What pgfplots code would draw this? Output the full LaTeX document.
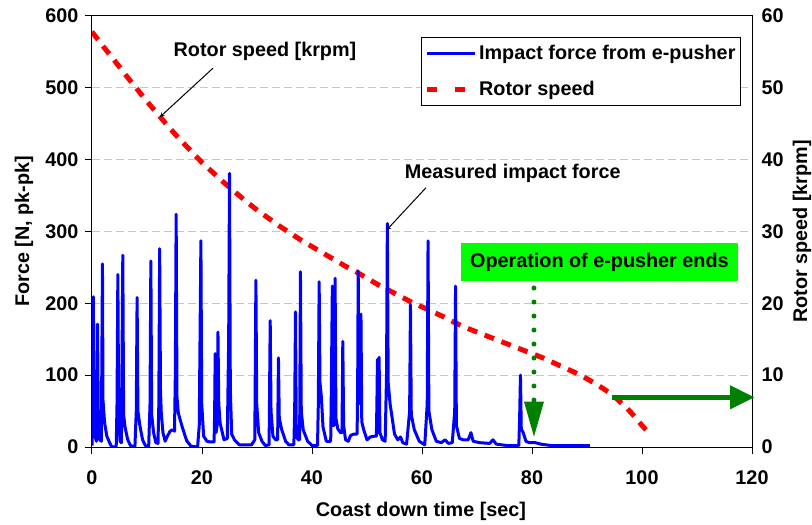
\documentclass[border=0pt]{standalone}
\usepackage{pgfplots}
\pgfplotsset{compat=1.18}
\usepackage{fontspec}
\setmainfont{Liberation Sans}
\definecolor{dgreen}{RGB}{0,128,0}
\definecolor{bgreen}{RGB}{0,255,0}
\newcommand\ff{\fontsize{19.8bp}{23bp}\selectfont\bfseries}
\pgfplotsset{
  dashleg/.style={legend image code/.code={\draw[##1, dash pattern=on 10bp off 18bp] (0bp,0bp) -- (48bp,0bp);}},
  lineleg/.style={legend image code/.code={\draw[##1] (0bp,0bp) -- (48bp,0bp);}},
}
\begin{document}
\begin{tikzpicture}
\pgfplotsset{
  base/.style={scale only axis, width=660bp, height=431bp,
    at={(0,0)}, anchor=south west, xmin=0, xmax=120,
    ticklabel style={font=\ff}, /pgf/number format/assume math mode=true},
}
% Axis A: frame, left axis, grid, x axis
\begin{axis}[base, ymin=0, ymax=600,
  xtick={0,20,...,120}, ytick={0,100,...,600},
  xtick pos=bottom, ytick pos=left, tick align=outside,
  major tick length=7bp,
  axis line style={black, line width=1bp}, tick style={black, line width=1bp},
  ymajorgrids, major grid style={black!22, line width=1bp, dash pattern=on 8bp off 4bp},
  xticklabel style={yshift=-13bp}, yticklabel style={xshift=-3bp},
  xlabel={Coast down time [sec]}, xlabel style={font=\ff, at={(axis description cs:0.4985,-0.1485)}, anchor=center},
  ylabel={Force [N, pk-pk]}, ylabel style={font=\ff, at={(axis description cs:-0.103,0.5)}, anchor=center, rotate=0},
]
\addplot[draw=none] coordinates {(0,0) (120,600)};
\end{axis}
% Axis B: right axis with rotor speed
\begin{axis}[base, ymin=0, ymax=60, hide x axis,
  ytick={0,10,...,60}, ytick pos=right, yticklabel pos=right,
  major tick length=0bp, y axis line style={draw=none},
  yticklabel style={xshift=6bp},
  ylabel={Rotor speed [krpm]}, ylabel style={font=\ff, at={(axis description cs:1.0758,0.5)}, anchor=center, rotate=0},
]
\addplot[red, line width=5bp, dash pattern=on 10bp off 8bp] coordinates {
(0,57.8) (2,55.8) (4,53.9) (6,51.9) (8,50.0) (10,48.1) (12,46.3) (14,44.5) (16,42.8)
(18,41.2) (20,39.6) (22,38.2) (24,36.8) (26,35.5) (28,34.2) (30,33.0) (32,31.9)
(34,30.8) (36,29.8) (38,28.8) (40,27.9) (42,27.0) (44,26.1) (46,25.2) (48,24.4)
(50,23.5) (52,22.6) (54,21.8) (56,21.0) (58,20.2) (60,19.5) (62,18.8) (64,18.1)
(66,17.3) (68,16.6) (70,16.0) (72,15.4) (74,14.8) (76,14.2) (78,13.6) (80,13.0)
(82,12.4) (84,11.7) (86,11.0) (88,10.3) (90,9.5) (92,8.6) (94,7.6) (95,7.0)
(96,6.3) (97,5.6) (98,4.8) (99,3.9) (100,3.0) (101.3,1.9)
};
\end{axis}
% Axis C: force series, legend, annotations
\begin{axis}[base, ymin=0, ymax=600, hide axis, clip mode=individual,
  lineleg,
  legend style={at={(0.9833,0.9513)}, anchor=north east, draw=black, line width=1bp,
    font=\ff, inner xsep=3bp, inner ysep=6bp, row sep=16bp,
    nodes={inner sep=2bp}},
  legend cell align=left,
]
\addplot[blue, line width=3bp, line join=round] coordinates {
(0,2) (0.1,100) (0.25,209) (0.35,60) (0.55,15) (0.8,8) (1.0,171) (1.15,40) (1.4,10)
(1.7,8) (1.9,255) (2.0,65) (2.3,33) (2.7,15) (3.2,6) (3.6,0) (4.4,0) (4.55,60)
(4.7,240) (4.85,40) (5.1,8) (5.35,6) (5.6,267) (5.75,45) (6.0,28) (6.5,10) (7.0,2)
(7.8,0) (8.05,50) (8.2,208) (8.35,50) (8.7,30) (9.2,10) (9.7,2) (10.3,0) (10.55,60)
(10.7,259) (10.85,45) (11.2,20) (11.6,6) (12.0,5) (12.15,60) (12.3,276) (12.45,80)
(12.6,47) (12.9,20) (13.3,8) (13.7,15) (14.2,22) (14.6,24) (15.0,22) (15.15,100)
(15.3,324) (15.45,70) (15.7,47) (16.4,28) (17.2,9) (18.0,1) (19.2,0) (19.5,30)
(19.8,287) (19.95,60) (20.3,15) (20.9,8) (21.5,7) (22.2,7) (22.3,50) (22.4,130)
(22.55,20) (22.75,30) (22.9,160) (23.05,60) (23.3,33) (24.0,10) (24.6,12) (24.85,150)
(25.0,381) (25.15,80) (25.4,18) (25.9,10) (26.8,3) (29.0,3) (29.6,10) (29.8,232)
(29.95,60) (30.3,20) (30.9,8) (31.5,2) (32.2,3) (32.4,176) (32.55,50) (32.9,15)
(33.4,10) (33.75,10) (33.9,124) (34.05,40) (34.5,24) (35.2,8) (35.8,3) (36.7,3)
(36.85,50) (37.0,188) (37.15,15) (37.5,10) (37.75,10) (37.9,244) (38.05,50) (38.4,24)
(39.2,8) (40.0,2) (41.0,2) (41.15,60) (41.3,230) (41.45,90) (41.7,70) (42.0,28)
(42.6,8) (43.4,8) (43.5,70) (43.7,224) (43.85,30) (44.05,30) (44.2,235) (44.35,40)
(44.7,25) (45.2,20) (45.45,20) (45.6,147) (45.75,30) (46.1,10) (46.6,8) (47.0,16)
(47.6,18) (48.2,18) (48.3,80) (48.4,245) (48.55,80) (48.75,60) (48.9,185) (49.05,35)
(49.4,24) (50.0,10) (50.6,14) (51.3,15) (51.7,15) (51.8,60) (51.9,122) (52.05,20)
(52.1,20) (52.2,125) (52.35,20) (52.8,10) (53.3,8) (53.55,100) (53.7,311) (53.85,90)
(54.2,60) (55.0,18) (55.6,10) (56.1,14) (56.5,6) (57.2,4) (57.75,50) (57.9,198)
(58.05,45) (58.6,24) (59.5,8) (60.5,3) (60.95,60) (61.1,287) (61.25,50) (61.8,24)
(62.6,8) (63.5,6) (64.2,10) (64.8,5) (65.5,6) (65.95,50) (66.1,224) (66.25,30)
(66.8,12) (67.5,10) (68.4,10) (68.9,20) (69.3,8) (70.5,6) (72.3,5) (72.9,10) (73.5,4)
(75.5,2) (77.6,2) (77.75,40) (77.9,100) (78.05,25) (78.4,20) (78.9,8) (79.5,6)
(80.6,6) (81.6,4) (83.5,2) (90.5,2)
};
\addlegendentry{Impact force from e-pusher}
\addlegendimage{red, line width=5bp, dashleg}
\addlegendentry{Rotor speed}
% annotations
\node[font=\ff] at (axis cs:31.45,550.3) {Rotor speed [krpm]};
\draw[-stealth, line width=1bp] (axis cs:22.0,527.4) -- (axis cs:12.36,459.4);
\node[font=\ff] at (axis cs:76.5,381.0) {Measured impact force};
\draw[-stealth, line width=1bp] (axis cs:60.73,361.0) -- (axis cs:53.58,302.1);
\fill[bgreen] (axis cs:67.09,231.1) rectangle (axis cs:117.4,283.6);
\node[font=\ff] at (axis cs:92.25,257.3) {Operation of e-pusher ends};
\draw[dgreen, line width=5bp, line cap=round, dash pattern=on 0bp off 14bp] (axis cs:80.36,221.3) -- (axis cs:80.36,63);
\fill[dgreen] (axis cs:78.55,63) -- (axis cs:82.17,63) -- (axis cs:80.36,14.4) -- cycle;
\draw[dgreen, line width=5bp] (axis cs:94.49,69.2) -- (axis cs:116.5,69.2);
\fill[dgreen] (axis cs:116,86.1) -- (axis cs:116,52.3) -- (axis cs:120.4,69.2) -- cycle;
\end{axis}
\pgfresetboundingbox
\useasboundingbox (-92bp,-78bp) rectangle (720bp,447bp);
\end{tikzpicture}
\end{document}
